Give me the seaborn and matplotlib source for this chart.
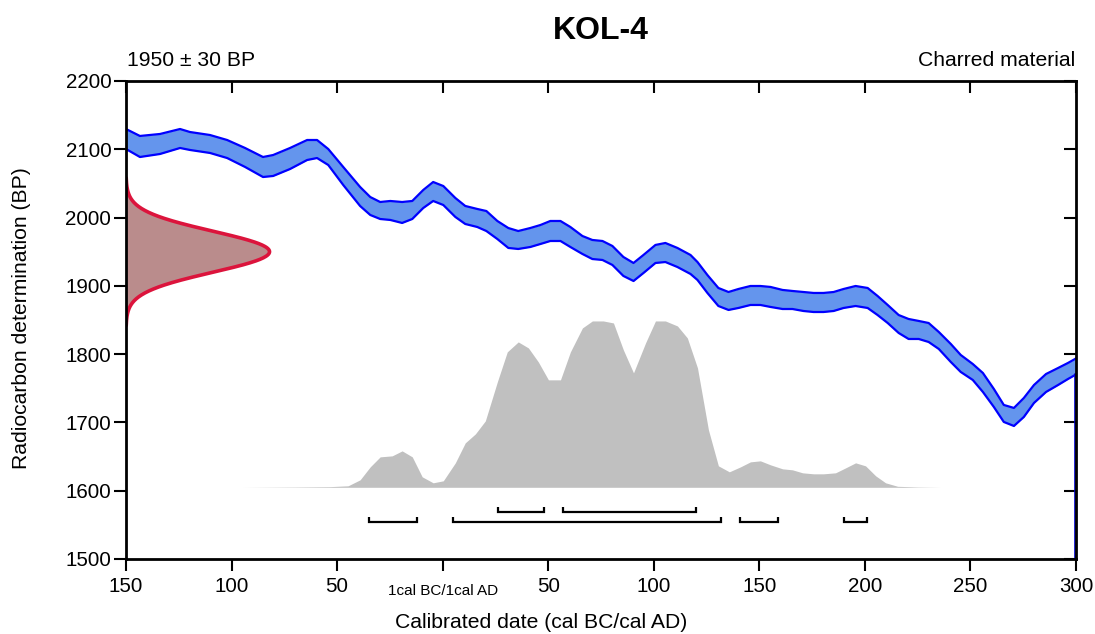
import numpy as np
import matplotlib
matplotlib.use("Agg")
import matplotlib.pyplot as plt
import seaborn as sns

# ---------------- data ----------------
title = "KOL-4"
c14_mean = 1950
c14_sigma = 30
c14_text = "1950 ± 30 BP"
material_text = "Charred material"

# calibration curve (year, upper BP, lower BP)
cal_year = [-150.0, -143.4, -133.9, -124.4, -119.7, -110.2, -102.1, -93.6, -85.1, -80.3,
            -72.3, -64.2, -59.5, -54.2, -47.1, -39.1, -34.3, -29.6, -24.8, -19.2,
            -14.4, -9.2, -4.5, 0.3, 6.0, 10.7, 16.4, 20.7, 25.9, 31.1,
            35.8, 41.5, 46.3, 51.0, 55.8, 60.5, 66.2, 70.9, 75.7, 80.4,
            85.6, 90.4, 95.1, 100.8, 105.5, 111.2, 117.4, 120.7, 125.4, 130.6,
            135.4, 140.1, 145.8, 150.5, 155.3, 161.0, 165.7, 170.9, 175.7, 180.4,
            185.2, 189.9, 195.6, 201.3, 206.0, 210.8, 216.0, 220.7, 225.5, 230.2,
            235.0, 240.7, 245.4, 251.1, 255.9, 261.1, 265.8, 270.6, 275.3, 280.1,
            285.8, 291.5, 296.2, 300.4]
cal_upper = [2129.7, 2119.5, 2122.4, 2129.7, 2125.3, 2120.9, 2113.6, 2101.9, 2088.7, 2091.6,
             2101.9, 2113.6, 2113.6, 2100.4, 2074.1, 2044.8, 2030.1, 2022.8, 2024.3, 2022.8,
             2024.3, 2040.4, 2052.1, 2046.2, 2028.7, 2017.0, 2012.6, 2009.6, 1995.0, 1984.7,
             1980.3, 1984.7, 1989.1, 1995.0, 1995.0, 1986.2, 1973.0, 1967.2, 1965.7, 1958.4,
             1942.3, 1933.5, 1945.2, 1959.9, 1962.8, 1955.5, 1945.2, 1934.9, 1915.9, 1896.9,
             1891.0, 1895.4, 1899.8, 1899.8, 1898.4, 1894.0, 1892.5, 1891.0, 1889.6, 1889.6,
             1891.0, 1895.4, 1899.8, 1896.9, 1885.2, 1872.0, 1857.3, 1851.5, 1848.6, 1845.6,
             1832.5, 1814.9, 1798.8, 1785.6, 1772.4, 1749.0, 1725.6, 1721.2, 1735.8, 1754.8,
             1770.9, 1779.7, 1787.1, 1794.4]
cal_lower = [2100.4, 2088.7, 2093.1, 2101.9, 2099.0, 2094.6, 2087.2, 2074.1, 2059.4, 2060.9,
             2071.1, 2084.3, 2087.2, 2077.0, 2047.7, 2016.9, 2003.8, 1997.9, 1996.5, 1992.1,
             1997.9, 2014.0, 2024.3, 2018.4, 2000.9, 1990.6, 1986.2, 1980.3, 1968.6, 1955.5,
             1954.0, 1956.9, 1961.3, 1965.7, 1965.7, 1956.9, 1946.7, 1939.3, 1937.9, 1930.6,
             1914.5, 1907.1, 1918.8, 1933.5, 1934.9, 1927.6, 1917.4, 1908.6, 1889.6, 1870.5,
             1864.7, 1867.6, 1872.0, 1872.0, 1869.1, 1866.1, 1866.1, 1863.2, 1861.7, 1861.7,
             1863.2, 1867.6, 1870.5, 1867.6, 1857.3, 1845.6, 1831.0, 1822.2, 1822.2, 1817.8,
             1807.6, 1788.5, 1773.9, 1762.2, 1744.6, 1722.6, 1700.7, 1694.8, 1708.0, 1728.5,
             1744.6, 1754.8, 1763.6, 1770.9]

# calibrated probability distribution (relative)
prob_year = [-95, -70, -53.3, -44.8, -39.1, -34.3, -29.6, -23.9, -19.2, -14.4,
             -9.7, -4.5, 0.3, 6.0, 10.7, 15.5, 20.2, 25.9, 30.6, 35.8,
             40.6, 45.3, 50.1, 55.8, 60.5, 66.2, 70.9, 76.1, 80.9, 85.6,
             90.4, 96.1, 100.8, 105.5, 111.2, 115.9, 120.7, 125.9, 130.6, 135.8,
             141.1, 145.8, 150.5, 155.3, 161.0, 165.7, 170.5, 175.7, 180.4, 186.1,
             190.9, 195.6, 200.3, 205.1, 209.8, 215.5, 225.0, 236.0]
prob_val = [0.0, 0.002, 0.004, 0.009, 0.045, 0.123, 0.183, 0.189, 0.219, 0.183,
            0.063, 0.027, 0.039, 0.147, 0.267, 0.321, 0.399, 0.634, 0.814, 0.874,
            0.838, 0.754, 0.646, 0.646, 0.814, 0.958, 1.0, 1.0, 0.988, 0.826,
            0.688, 0.868, 1.0, 1.0, 0.970, 0.898, 0.718, 0.345, 0.129, 0.093,
            0.123, 0.153, 0.159, 0.135, 0.111, 0.105, 0.087, 0.081, 0.081, 0.087,
            0.117, 0.147, 0.129, 0.069, 0.027, 0.006, 0.002, 0.0]

# highest posterior density ranges
range_68 = [(26, 48), (57, 120)]
range_95 = [(-35, -12), (5, 132), (141, 159), (190, 201)]

x_ticks = [-150, -100, -50, 0, 50, 100, 150, 200, 250, 300]
x_labels = ["150", "100", "50", "", "50", "100", "150", "200", "250", "300"]
zero_label = "1cal BC/1cal AD"
y_ticks = [1500, 1600, 1700, 1800, 1900, 2000, 2100, 2200]

# ---------------- style ----------------
sns.set_theme(style="white")
plt.rcParams["font.family"] = ["Liberation Sans", "DejaVu Sans"]

W, H = 1095, 634
fig = plt.figure(figsize=(W / 100, H / 100), dpi=100)
ax = fig.add_axes([126 / W, 1 - 559 / H, 950 / W, 478 / H])
ax.set_xlim(-150, 300)
ax.set_ylim(1500, 2200)

# calibration curve band
ax.fill_between(cal_year, cal_lower, cal_upper, color="#6495ED", lw=0, zorder=2)
sns.lineplot(x=cal_year, y=cal_upper, ax=ax, color="#0000FF", lw=1.6, sort=False,
             estimator=None, zorder=3)
sns.lineplot(x=cal_year, y=cal_lower, ax=ax, color="#0000FF", lw=1.6, sort=False,
             estimator=None, zorder=3)
ax.plot([299.6, 299.6], [1500, cal_lower[-1]], color="#0000CC", lw=1.2, zorder=3)

# radiocarbon measurement distribution on the y axis
bp = np.linspace(c14_mean - 3.6 * c14_sigma, c14_mean + 3.6 * c14_sigma, 300)
amp = 68
gx = -150 + amp * np.exp(-0.5 * ((bp - c14_mean) / c14_sigma) ** 2)
ax.fill_betweenx(bp, -150, gx, color="#BA8C8C", lw=0, zorder=4)
sns.lineplot(x=gx, y=bp, ax=ax, color="#DC143C", lw=2.6, sort=False,
             estimator=None, zorder=5)

# calibrated distribution
base = 1605
scale = 243.6
pv = np.array(prob_val)
ax.fill_between(prob_year, base, base + pv * scale, color="#C0C0C0", lw=0, zorder=1)

# range brackets
def bracket(x0, x1, y):
    ax.plot([x0, x0, x1, x1], [y + 7.3, y, y, y + 7.3], color="black", lw=1.6,
            solid_joinstyle="miter", solid_capstyle="butt", zorder=5)

for a, b in range_68:
    bracket(a, b, 1569.3)
for a, b in range_95:
    bracket(a, b, 1553.8)

# axes / ticks
for s in ax.spines.values():
    s.set_visible(True)
    s.set_color("black")
    s.set_linewidth(2.0)
    s.set_zorder(6)

ax.set_xticks(x_ticks)
ax.set_xticklabels(x_labels)
ax.set_yticks(y_ticks)
ax.tick_params(axis="x", which="major", bottom=True, top=True, direction="out",
               length=8.6, width=1.5, labelsize=14.8, pad=4, colors="black")
ax.tick_params(axis="y", which="major", left=True, right=True, direction="out",
               length=8.6, width=1.5, labelsize=14.8, pad=2, colors="black")
# top and right ticks point inward
for t in ax.xaxis.get_major_ticks():
    t.tick2line.set_marker(matplotlib.lines.TICKDOWN)
for t in ax.yaxis.get_major_ticks():
    t.tick2line.set_marker(matplotlib.lines.TICKLEFT)
ax.grid(False)

ax.annotate(zero_label, xy=(0, 0), xycoords=("data", "axes fraction"),
            xytext=(0, -26), textcoords="offset points", ha="center", va="baseline",
            fontsize=11, color="black")

# texts
fig.text(601 / W, 1 - 39 / H, title, ha="center", va="baseline",
         fontsize=23, fontweight="bold", color="black")
fig.text(127 / W, 1 - 66 / H, c14_text, ha="left", va="baseline", fontsize=15.2,
         color="black")
fig.text(1075 / W, 1 - 66 / H, material_text, ha="right", va="baseline", fontsize=15.2,
         color="black")
fig.text(541 / W, 1 - 622 / H, "Calibrated date (cal BC/cal AD)", ha="center",
         va="center", fontsize=15.2, color="black")
fig.text(22 / W, 1 - 318 / H, "Radiocarbon determination (BP)", ha="center",
         va="center", rotation=90, fontsize=15.2, color="black")

fig.savefig("out.png", dpi=100)
